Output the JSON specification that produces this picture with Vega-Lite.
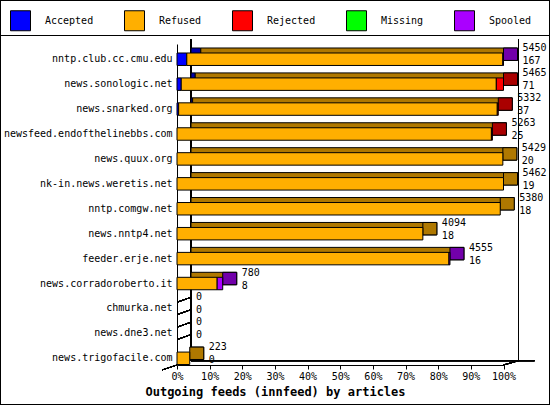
{
  "$schema": "https://vega.github.io/schema/vega-lite/v6.json",
  "width": 550,
  "height": 405,
  "autosize": {"type": "none"},
  "padding": 0,
  "background": "white",
  "config": {
    "view": {"stroke": "black", "strokeWidth": 2},
    "font": "DejaVu Sans Mono",
    "axisX": {
      "domainColor": "black", "tickColor": "black", "tickSize": 4, "grid": false,
      "labelFont": "DejaVu Sans Mono", "labelFontSize": 10, "labelColor": "black",
      "values": [0, 10, 20, 30, 40, 50, 60, 70, 80, 90, 100], "labelOverlap": false, "labelFlush": false,
      "labelExpr": "datum.value + '%'", "labelPadding": 2,
      "titleFont": "DejaVu Sans Mono", "titleFontSize": 12, "titleFontWeight": "bold",
      "titleColor": "black", "titleX": 275, "titleY": 26, "titleAlign": "center", "titleBaseline": "middle"
    },
    "axisBottom": {"offset": -40},
    "axisTop": {"offset": -35, "labels": false, "ticks": false},
    "axisY": {
      "domainColor": "black", "ticks": false, "grid": false,
      "labelFont": "DejaVu Sans Mono", "labelFontSize": 10, "labelColor": "black",
      "labelPadding": 5, "labelLimit": 200
    },
    "axisLeft": {"offset": -177}
  },
  "datasets": {
    "seg": [
      {"host": "nntp.club.cc.cmu.edu", "cat": "Accepted", "ord": 1, "pct": 3.0},
      {"host": "nntp.club.cc.cmu.edu", "cat": "Refused", "ord": 2, "pct": 96.8},
      {"host": "nntp.club.cc.cmu.edu", "cat": "Spooled", "ord": 5, "pct": 0.2},
      {"host": "news.sonologic.net", "cat": "Accepted", "ord": 1, "pct": 1.3},
      {"host": "news.sonologic.net", "cat": "Refused", "ord": 2, "pct": 96.5},
      {"host": "news.sonologic.net", "cat": "Rejected", "ord": 3, "pct": 2.2},
      {"host": "news.snarked.org", "cat": "Accepted", "ord": 1, "pct": 0.5},
      {"host": "news.snarked.org", "cat": "Refused", "ord": 2, "pct": 97.6},
      {"host": "news.snarked.org", "cat": "Rejected", "ord": 3, "pct": 0.3},
      {"host": "newsfeed.endofthelinebbs.com", "cat": "Refused", "ord": 2, "pct": 96.3},
      {"host": "newsfeed.endofthelinebbs.com", "cat": "Rejected", "ord": 3, "pct": 0.3},
      {"host": "news.quux.org", "cat": "Refused", "ord": 2, "pct": 99.8},
      {"host": "nk-in.news.weretis.net", "cat": "Refused", "ord": 2, "pct": 100},
      {"host": "nntp.comgw.net", "cat": "Refused", "ord": 2, "pct": 99.0},
      {"host": "news.nntp4.net", "cat": "Refused", "ord": 2, "pct": 75.3},
      {"host": "feeder.erje.net", "cat": "Refused", "ord": 2, "pct": 83.3},
      {"host": "feeder.erje.net", "cat": "Spooled", "ord": 5, "pct": 0.3},
      {"host": "news.corradoroberto.it", "cat": "Refused", "ord": 2, "pct": 12.3},
      {"host": "news.corradoroberto.it", "cat": "Spooled", "ord": 5, "pct": 1.7},
      {"host": "news.trigofacile.com", "cat": "Refused", "ord": 2, "pct": 3.9}
    ],
    "tot": [
      {"host": "nntp.club.cc.cmu.edu", "total": 100, "side": "Spooled", "label": "5450\n167"},
      {"host": "news.sonologic.net", "total": 100, "side": "Rejected", "label": "5465\n71"},
      {"host": "news.snarked.org", "total": 98.4, "side": "Rejected", "label": "5332\n37"},
      {"host": "newsfeed.endofthelinebbs.com", "total": 96.6, "side": "Rejected", "label": "5263\n25"},
      {"host": "news.quux.org", "total": 99.8, "side": "Refused", "label": "5429\n20"},
      {"host": "nk-in.news.weretis.net", "total": 100, "side": "Refused", "label": "5462\n19"},
      {"host": "nntp.comgw.net", "total": 99.0, "side": "Refused", "label": "5380\n18"},
      {"host": "news.nntp4.net", "total": 75.3, "side": "Refused", "label": "4094\n18"},
      {"host": "feeder.erje.net", "total": 83.6, "side": "Spooled", "label": "4555\n16"},
      {"host": "news.corradoroberto.it", "total": 14.0, "side": "Spooled", "label": "780\n8"},
      {"host": "chmurka.net", "total": 0, "side": "Refused", "label": "0\n0"},
      {"host": "news.dne3.net", "total": 0, "side": "Refused", "label": "0\n0"},
      {"host": "news.trigofacile.com", "total": 3.9, "side": "Refused", "label": "223\n0"}
    ]
  },
  "layer": [
    {
      "layer": [
        {
          "data": {"name": "tot"},
          "mark": {"type": "rule", "color": "black", "xOffset": 14, "yOffset": -20, "y2Offset": 2.4},
          "encoding": {
            "x": {"datum": 0, "type": "quantitative", "scale": {"domain": [0, 100], "range": [177, 503.5], "nice": false}, "title": "Outgoing feeds (innfeed) by articles"},
            "y": {"datum": "nntp.club.cc.cmu.edu", "type": "nominal", "title": null,
              "scale": {"domain": ["nntp.club.cc.cmu.edu", "news.sonologic.net", "news.snarked.org", "newsfeed.endofthelinebbs.com", "news.quux.org", "nk-in.news.weretis.net", "nntp.comgw.net", "news.nntp4.net", "feeder.erje.net", "news.corradoroberto.it", "chmurka.net", "news.dne3.net", "news.trigofacile.com"], "range": [44, 365], "paddingInner": 0.5, "paddingOuter": 0.19, "align": 0.95}},
            "y2": {"datum": "news.trigofacile.com"}
          }
        },
        {
          "data": {"name": "tot"},
          "mark": {"type": "rule", "color": "black", "xOffset": 15, "yOffset": -20, "y2Offset": 2.4},
          "encoding": {
            "x": {"datum": 100, "type": "quantitative", "title": "Outgoing feeds (innfeed) by articles"},
            "y": {"datum": "nntp.club.cc.cmu.edu", "type": "nominal", "title": null},
            "y2": {"datum": "news.trigofacile.com"}
          }
        },
        {
          "data": {"name": "tot"},
          "mark": {"type": "rule", "color": "black", "xOffset": 14, "x2Offset": 0, "yOffset": 2.4},
          "encoding": {
            "x": {"datum": 0, "type": "quantitative", "title": "Outgoing feeds (innfeed) by articles"},
            "x2": {"datum": 109.5},
            "y": {"datum": "news.trigofacile.com", "type": "nominal", "title": null}
          }
        },
        {
          "data": {"name": "tot"},
          "mark": {"type": "rule", "color": "black", "xOffset": 0, "x2Offset": 15, "yOffset": 6.7, "y2Offset": 2.4},
          "encoding": {
            "x": {"datum": 100, "type": "quantitative", "title": "Outgoing feeds (innfeed) by articles"},
            "x2": {"datum": 100},
            "y": {"datum": "news.trigofacile.com", "type": "nominal", "title": null},
            "y2": {"datum": "news.trigofacile.com"}
          }
        },
        {
          "data": {"name": "tot"},
          "mark": {"type": "rule", "color": "black", "xOffset": -15, "x2Offset": 0, "yOffset": 11.7, "y2Offset": 6.7},
          "encoding": {
            "x": {"datum": 0, "type": "quantitative", "title": "Outgoing feeds (innfeed) by articles"},
            "x2": {"datum": 0},
            "y": {"datum": "news.trigofacile.com", "type": "nominal", "title": null},
            "y2": {"datum": "news.trigofacile.com"}
          }
        },
        {
          "data": {"name": "tot"},
          "mark": {"type": "rule", "color": "black", "xOffset": 0, "x2Offset": 14, "yOffset": -6.2, "y2Offset": -11.2},
          "encoding": {
            "x": {"datum": 0, "type": "quantitative", "title": "Outgoing feeds (innfeed) by articles"},
            "x2": {"datum": 0},
            "y": {"datum": "chmurka.net", "type": "nominal", "title": null},
            "y2": {"datum": "chmurka.net"}
          }
        },
        {
          "data": {"name": "tot"},
          "mark": {"type": "rule", "color": "black", "xOffset": 0, "x2Offset": 14, "yOffset": 6.2, "y2Offset": 1.2},
          "encoding": {
            "x": {"datum": 0, "type": "quantitative", "title": "Outgoing feeds (innfeed) by articles"},
            "x2": {"datum": 0},
            "y": {"datum": "chmurka.net", "type": "nominal", "title": null},
            "y2": {"datum": "chmurka.net"}
          }
        },
        {
          "data": {"name": "tot"},
          "mark": {"type": "rule", "color": "black", "xOffset": 0, "x2Offset": 14, "yOffset": -6.2, "y2Offset": -11.2},
          "encoding": {
            "x": {"datum": 0, "type": "quantitative", "title": "Outgoing feeds (innfeed) by articles"},
            "x2": {"datum": 0},
            "y": {"datum": "news.dne3.net", "type": "nominal", "title": null},
            "y2": {"datum": "news.dne3.net"}
          }
        },
        {
          "data": {"name": "tot"},
          "mark": {"type": "rule", "color": "black", "xOffset": 0, "x2Offset": 14, "yOffset": 6.2, "y2Offset": 1.2},
          "encoding": {
            "x": {"datum": 0, "type": "quantitative", "title": "Outgoing feeds (innfeed) by articles"},
            "x2": {"datum": 0},
            "y": {"datum": "news.dne3.net", "type": "nominal", "title": null},
            "y2": {"datum": "news.dne3.net"}
          }
        },
        {
          "data": {"name": "seg"},
          "mark": {"type": "bar", "xOffset": 14, "x2Offset": 7, "yOffset": -5, "stroke": "black", "strokeWidth": 1},
          "encoding": {
            "x": {"field": "pct", "type": "quantitative", "stack": "zero", "title": "Outgoing feeds (innfeed) by articles"},
            "y": {"field": "host", "type": "nominal", "title": null},
            "fill": {"field": "cat", "type": "nominal", "legend": null,
              "scale": {"domain": ["Refused", "Accepted", "Rejected", "Spooled", "Missing"], "range": ["#af7800", "#0000aa", "#aa0000", "#7200aa", "#00aa00"]}},
            "order": {"field": "ord", "type": "quantitative"}
          }
        },
        {
          "data": {"name": "tot"},
          "transform": [{"filter": "datum.total > 0"}],
          "mark": {"type": "tick", "thickness": 14, "xOffset": 7, "yOffset": -5, "stroke": "black", "strokeWidth": 1, "filled": true, "opacity": 1},
          "encoding": {
            "x": {"field": "total", "type": "quantitative", "title": "Outgoing feeds (innfeed) by articles"},
            "y": {"field": "host", "type": "nominal", "title": null},
            "fill": {"field": "side", "type": "nominal", "legend": null},
            "size": {"value": 12.4}
          }
        },
        {
          "data": {"name": "seg"},
          "mark": {"type": "bar", "stroke": "black", "strokeWidth": 1, "opacity": 1},
          "encoding": {
            "x": {"field": "pct", "type": "quantitative", "stack": "zero", "title": "Outgoing feeds (innfeed) by articles"},
            "y": {"field": "host", "type": "nominal", "title": null},
            "color": {"field": "cat", "type": "nominal",
              "scale": {"domain": ["Accepted", "Refused", "Rejected", "Missing", "Spooled"], "range": ["#0000ff", "#ffaf00", "#ff0000", "#00ff00", "#aa00ff"]},
              "legend": {
                "orient": "none", "legendX": 10, "legendY": 10, "direction": "horizontal",
                "columns": 5, "columnPadding": 28, "title": null,
                "symbolType": "square", "symbolSize": 400, "symbolStrokeColor": "black",
                "symbolStrokeWidth": 1, "symbolOpacity": 1, "labelOffset": 14,
                "labelFont": "DejaVu Sans Mono", "labelFontSize": 10, "labelColor": "black"
              }},
            "order": {"field": "ord", "type": "quantitative"}
          }
        },
        {
          "data": {"name": "tot"},
          "mark": {"type": "text", "align": "left", "baseline": "middle", "dx": 19, "dy": -11, "lineBreak": "\n", "lineHeight": 13, "font": "DejaVu Sans Mono", "fontSize": 10, "color": "black"},
          "encoding": {
            "x": {"field": "total", "type": "quantitative", "title": "Outgoing feeds (innfeed) by articles"},
            "y": {"field": "host", "type": "nominal", "title": null},
            "text": {"field": "label"}
          }
        }
      ]
    },
    {
      "data": {"values": [{"v": 0}]},
      "mark": {"type": "rule", "opacity": 0},
      "encoding": {
        "x": {"datum": 0, "type": "quantitative", "scale": {"domain": [0, 1]},
          "axis": {"orient": "top", "title": null, "labels": false, "ticks": false, "domain": true}}
      }
    }
  ],
  "resolve": {"scale": {"x": "independent"}, "axis": {"x": "independent"}}
}
